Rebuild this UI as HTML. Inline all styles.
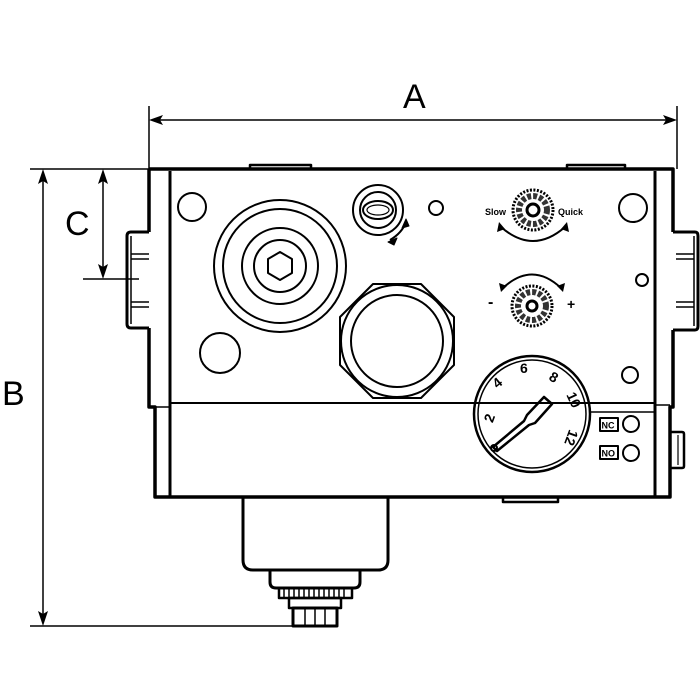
<!DOCTYPE html>
<html><head><style>body{margin:0;background:#fff}svg{display:block}</style></head><body>
<svg width="700" height="700" viewBox="0 0 700 700" xmlns="http://www.w3.org/2000/svg" font-family="Liberation Sans, sans-serif">
<rect width="700" height="700" fill="#fff"/>
<g stroke="#000" fill="none">
<line x1="149" y1="106" x2="149" y2="169" stroke-width="1.5"/>
<line x1="677" y1="106" x2="677" y2="169" stroke-width="1.5"/>
<line x1="152" y1="120" x2="674" y2="120" stroke-width="1.5"/>
<line x1="30" y1="169" x2="149" y2="169" stroke-width="1.5"/>
<line x1="30" y1="626" x2="292" y2="626" stroke-width="1.5"/>
<line x1="43" y1="172" x2="43" y2="623" stroke-width="1.5"/>
<line x1="103" y1="172" x2="103" y2="276" stroke-width="1.5"/>
<line x1="83" y1="279" x2="139" y2="279" stroke-width="1.5"/>
</g>
<g fill="#000">
<polygon points="149,120 163,115 160,120 163,125"/>
<polygon points="677,120 663,115 666,120 663,125"/>
<polygon points="43,169 38,184 43,181 48,184"/>
<polygon points="43,626 38,611 43,614 48,611"/>
<polygon points="103,169 98,184 103,181 108,184"/>
<polygon points="103,279 98,264 103,267 108,264"/>
</g>
<g font-size="34" fill="#000">
<text x="403" y="108">A</text>
<text x="2" y="405">B</text>
<text x="65" y="235">C</text>
</g>
<g stroke="#000" fill="none" stroke-linejoin="round">
<path d="M149 169 H673 V232 M673 330 V407 H670 V497 H155 V407 H149 V328 M149 232 V169" stroke-width="3.5"/>
<line x1="170" y1="171" x2="170" y2="497" stroke-width="3"/>
<line x1="655" y1="171" x2="655" y2="497" stroke-width="3"/>
<line x1="170" y1="403" x2="655" y2="403" stroke-width="2"/>
<line x1="590" y1="412" x2="655" y2="412" stroke-width="1.5"/>
<line x1="155" y1="407" x2="170" y2="407" stroke-width="1.5"/>
<line x1="655" y1="405" x2="670" y2="405" stroke-width="1.5"/>
<path d="M250 169 V165 H311 V169" stroke-width="2.5"/>
<path d="M567 169 V165 H625 V169" stroke-width="2.5"/>
<path d="M503 497 V502 H558 V497" stroke-width="2.5"/>
<path d="M149 232 H131 Q127 232 127 236 V324 Q127 328 131 328 H149" stroke-width="3"/>
<line x1="131" y1="254" x2="149" y2="254" stroke-width="1.5"/><line x1="131" y1="259" x2="149" y2="259" stroke-width="1.5"/>
<line x1="131" y1="302" x2="149" y2="302" stroke-width="1.5"/><line x1="131" y1="307" x2="149" y2="307" stroke-width="1.5"/>
<line x1="131" y1="236" x2="131" y2="324" stroke-width="1.5"/>
<path d="M673 232 H695 Q698 232 698 236 V326 Q698 330 695 330 H673" stroke-width="3"/>
<line x1="694" y1="236" x2="694" y2="326" stroke-width="1.5"/>
<line x1="676" y1="254" x2="694" y2="254" stroke-width="1.5"/><line x1="676" y1="259" x2="694" y2="259" stroke-width="1.5"/>
<line x1="676" y1="302" x2="694" y2="302" stroke-width="1.5"/><line x1="676" y1="307" x2="694" y2="307" stroke-width="1.5"/>
<path d="M670 432 H682 Q684 432 684 434 V466 Q684 468 682 468 H670" stroke-width="2.5"/>
<line x1="678" y1="435" x2="678" y2="465" stroke-width="1.2"/>
<path d="M243 497 V560 Q243 570 253 570 H378 Q388 570 388 560 V497" stroke-width="3"/>
<path d="M270 570 V582 Q270 588 276 588 H354 Q360 588 360 582 V570" stroke-width="3"/>
<rect x="279" y="588" width="73" height="10" stroke-width="2.5"/>
<path d="M284 589 V597 M289 589 V597 M294 589 V597 M299 589 V597 M304 589 V597 M309 589 V597 M314 589 V597 M319 589 V597 M324 589 V597 M329 589 V597 M334 589 V597 M339 589 V597 M344 589 V597" stroke-width="1.5"/>
<rect x="289" y="598" width="52" height="10" stroke-width="2.5"/>
<rect x="293" y="608" width="44" height="18" stroke-width="3"/>
<path d="M305 609 V625 M315 609 V625 M325 609 V625" stroke-width="1.5"/>
<g stroke-width="2">
<circle cx="192" cy="207" r="14"/>
<circle cx="220" cy="353" r="20"/>
<circle cx="436" cy="208" r="7"/>
<circle cx="633" cy="208" r="14"/>
<circle cx="642" cy="280" r="6"/>
<circle cx="630" cy="375" r="8"/>
<circle cx="280" cy="266" r="66"/>
<circle cx="280" cy="266" r="57"/>
<circle cx="280" cy="266" r="38"/>
<circle cx="280" cy="266" r="26"/>
<polygon points="280,252 292,259 292,273 280,280 268,273 268,259"/>
<polygon points="373,284 421,284 454,317 454,365 421,398 373,398 340,365 340,317"/>
<circle cx="397" cy="341" r="56"/>
<circle cx="397" cy="341" r="46"/>
<circle cx="378" cy="210" r="25"/>
<circle cx="378" cy="210" r="18"/>
<ellipse cx="378" cy="210" rx="15" ry="9"/>
<ellipse cx="378" cy="210" rx="11" ry="5" stroke-width="1.2"/>
<path d="M390 240 Q402 233 406 222" stroke-width="2"/>
</g>
<polygon points="406,219 402,228 409,226" fill="#000"/>
<polygon points="388,242 397,238 394,245" fill="#000"/>
<!-- knob 1 -->
<circle cx="533" cy="210" r="20" stroke-width="3" stroke-dasharray="2 1.5"/>
<circle cx="533" cy="210" r="14" stroke-width="6" stroke="#333" stroke-dasharray="4 2"/>
<circle cx="533" cy="210" r="6" stroke-width="3" fill="#fff"/>
<path d="M501 227 Q533 255 565 227" stroke-width="2"/>
<!-- knob 2 -->
<circle cx="532" cy="306" r="20" stroke-width="3" stroke-dasharray="2 1.5"/>
<circle cx="532" cy="306" r="14" stroke-width="6" stroke="#333" stroke-dasharray="4 2"/>
<circle cx="532" cy="306" r="5" stroke-width="3" fill="#fff"/>
<path d="M503 288 Q532 261 561 288" stroke-width="2"/>
<!-- gauge -->
<circle cx="532" cy="414" r="58" stroke-width="2.5"/>
<circle cx="532" cy="414" r="54" stroke-width="1.5"/>
<path d="M493 447 L524 421 L527 415 L544 397 L552 404 L535 423 L529 425 L497 451 Z" stroke-width="2.5"/>
<circle cx="494" cy="448" r="3" stroke-width="2"/>
<rect x="600" y="418" width="18" height="13" stroke-width="2"/>
<rect x="600" y="446" width="18" height="13" stroke-width="2"/>
<circle cx="631" cy="424" r="8" stroke-width="2"/>
<circle cx="631" cy="453" r="8" stroke-width="2"/>
</g>
<g fill="#000">
<polygon points="499,222 497,232 505,229"/>
<polygon points="567,222 561,229 569,232"/>
<polygon points="501,292 499,283 507,286"/>
<polygon points="563,292 557,286 565,283"/>
</g>
<g font-weight="bold" fill="#000">
<text x="485" y="215" font-size="9">Slow</text>
<text x="558" y="215" font-size="9">Quick</text>
<text x="488" y="307" font-size="16">-</text>
<text x="567" y="309" font-size="14">+</text>
<text x="601.5" y="428.5" font-size="9">NC</text>
<text x="601.5" y="456.5" font-size="9">NO</text>
<g font-size="14">
<text x="484" y="421" transform="rotate(-70 490 416)">2</text>
<text x="493" y="387" transform="rotate(-40 498 382)">4</text>
<text x="520" y="373">6</text>
<text x="550" y="382" transform="rotate(30 554 377)">8</text>
<text x="566" y="405" transform="rotate(65 574 400)">10</text>
<text x="562" y="444" transform="rotate(110 571 439)">12</text>
</g>
</g>
</svg>
</body></html>
